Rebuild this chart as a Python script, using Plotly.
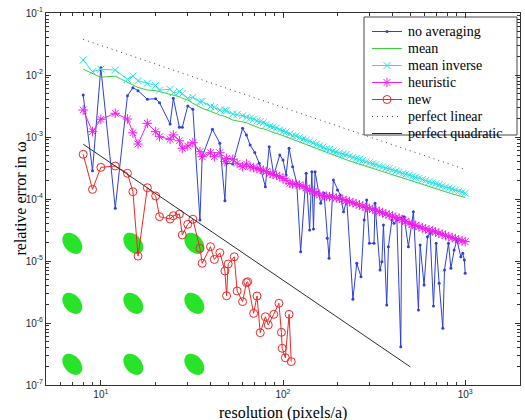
import numpy as np
import plotly.graph_objects as go

# ---------------- data ----------------
BLUE_X = [8, 9, 10, 12, 14, 15, 16, 18, 20, 21, 24, 25, 27, 28, 30, 32, 35, 36, 41, 45, 48, 49, 53, 60, 63,
          66, 70, 74, 80, 84, 89, 96, 100, 104, 108, 113, 119, 125, 134, 140, 144, 147, 150, 161, 168,
          175, 179, 189, 199, 206, 215, 224, 242, 254, 268, 279, 288, 298, 316, 320, 341, 349, 356, 371, 379,
          396, 407, 422, 443, 449, 462, 488, 520, 554, 566, 595, 621, 642, 670, 693, 720, 754, 770, 810, 835,
          870, 900, 947, 970, 990, 1000]
BLUE_Y = [4.75e-3, 2.86e-4, 1.31e-2, 7.1e-5, 4.64e-3, 6.24e-3, 5.58e-3, 4.06e-3, 4.15e-3, 3.57e-3,
          1.62e-3, 4.2e-3, 1.43e-3, 1.43e-3, 3.16e-3, 2.8e-3, 4.58e-5, 4.81e-4, 1.33e-3, 7.94e-4,
          9.4e-5, 3.77e-4, 3.67e-4, 1.38e-3, 1.08e-3,
          7.43e-4, 5.62e-4, 3.77e-4, 1.58e-4, 6.98e-4, 2.44e-4, 5.13e-4, 4.26e-4, 2.44e-4, 6.58e-4,
          3.32e-4, 1.79e-4, 1.41e-5, 2.60e-4, 3.16e-5, 2.75e-4, 3.28e-5, 2.75e-4, 8.53e-5, 1.24e-4,
          2.32e-5, 1.11e-5, 2.02e-4, 1.40e-4, 1.16e-4, 6.24e-5, 9.64e-5, 2.41e-6, 9.18e-6, 5.58e-6,
          4.58e-5, 9.64e-5, 1.93e-5, 1.93e-5, 8.53e-5, 7.16e-6, 9.75e-6, 3.81e-5, 1.95e-6, 1.70e-5,
          4.58e-5, 4.06e-5, 4.58e-5, 4.15e-7, 4.94e-5, 5.19e-5, 1.70e-5, 6.24e-5, 1.62e-6, 1.81e-5,
          4.10e-6, 2.47e-5, 2.80e-5, 1.88e-6, 1.93e-5, 4.37e-6, 8.22e-7, 7.16e-6, 1.93e-5, 7.62e-6,
          1.50e-5, 2.18e-5, 1.17e-5, 1.33e-5, 1.04e-5, 6.34e-6]

SMOOTH_X = [8, 9, 10, 12, 14, 15, 16, 18, 20, 21, 24, 25, 27, 28, 30, 32, 35, 36, 40, 42, 45, 48, 49, 53, 56, 60, 63,
            66, 69, 72, 75, 78, 81, 85, 88, 92, 96, 100, 104, 109, 113, 118, 123, 129, 134, 140, 146,
            152, 159, 166, 173, 180, 188, 196, 204, 213, 222, 232, 242, 252, 263, 274, 286, 298, 311, 324, 338,
            352, 367, 383, 399, 416, 434, 453, 472, 492, 513, 535, 558, 582, 607, 633, 660, 688, 717, 748, 780,
            813, 848, 884, 922, 961, 1000]

MEAN_Y = [1.24e-2, 1.06e-2, 9.2e-3, 9.6e-3, 7.8e-3, 6.9e-3, 6.3e-3, 5.73e-3, 5.6e-3, 5.38e-3,
          4.94e-3, 4.7e-3, 4.47e-3, 4.2e-3, 3.95e-3, 3.5e-3, 3.0e-3, 2.9e-3, 2.6e-3, 2.45e-3,
          2.26e-3, 2.15e-3, 2.08e-3, 1.88e-3, 1.82e-3, 1.77e-3, 1.7e-3,
          1.6e-3, 1.52e-3, 1.45e-3, 1.38e-3, 1.36e-3, 1.3e-3, 1.25e-3, 1.2e-3, 1.14e-3, 1.1e-3,
          1.05e-3, 1.0e-3, 9.5e-4, 9.1e-4, 8.7e-4, 8.3e-4, 7.9e-4, 7.6e-4, 7.2e-4, 6.85e-4,
          6.5e-4, 6.2e-4, 5.9e-4, 5.6e-4, 5.35e-4, 5.1e-4, 4.85e-4, 4.7e-4, 4.5e-4, 4.3e-4,
          4.1e-4, 3.95e-4, 3.8e-4, 3.65e-4, 3.5e-4, 3.35e-4, 3.2e-4, 3.08e-4, 2.95e-4, 2.84e-4,
          2.73e-4, 2.62e-4, 2.52e-4, 2.43e-4, 2.33e-4, 2.24e-4, 2.16e-4, 2.08e-4, 2.0e-4, 1.93e-4,
          1.85e-4, 1.78e-4, 1.72e-4, 1.65e-4, 1.59e-4, 1.53e-4, 1.47e-4, 1.41e-4, 1.36e-4, 1.31e-4,
          1.26e-4, 1.21e-4, 1.17e-4, 1.13e-4, 1.09e-4, 1.06e-4]

MEANINV_Y = [1.75e-2, 1.13e-2, 1.24e-2, 1.2e-2, 8.5e-3, 9.6e-3, 8.1e-3, 7.35e-3, 6.8e-3, 5.7e-3,
             5.9e-3, 5.2e-3, 5.4e-3, 5.0e-3, 4.2e-3, 4.36e-3, 3.7e-3, 3.75e-3, 3.1e-3, 3.0e-3,
             2.72e-3, 2.7e-3, 2.66e-3, 2.35e-3, 2.3e-3, 2.2e-3, 2.08e-3,
             2.0e-3, 1.95e-3, 1.82e-3, 1.77e-3, 1.70e-3, 1.6e-3, 1.5e-3, 1.45e-3, 1.40e-3, 1.3e-3,
             1.24e-3, 1.2e-3, 1.12e-3, 1.05e-3, 1.03e-3, 9.8e-4, 9.3e-4, 8.9e-4, 8.6e-4, 8.0e-4,
             7.6e-4, 7.2e-4, 6.9e-4, 6.4e-4, 6.3e-4, 5.95e-4, 5.75e-4, 5.5e-4, 5.3e-4, 5.2e-4,
             4.9e-4, 4.7e-4, 4.5e-4, 4.35e-4, 4.2e-4, 4.0e-4, 3.85e-4, 3.7e-4, 3.6e-4, 3.4e-4,
             3.3e-4, 3.15e-4, 3.1e-4, 2.95e-4, 2.82e-4, 2.7e-4, 2.55e-4, 2.5e-4, 2.42e-4, 2.32e-4,
             2.23e-4, 2.15e-4, 2.07e-4, 1.98e-4, 1.9e-4, 1.82e-4, 1.76e-4, 1.69e-4, 1.62e-4, 1.56e-4,
             1.5e-4, 1.44e-4, 1.39e-4, 1.33e-4, 1.28e-4, 1.24e-4]

HEUR_Y = [2.72e-3, 1.22e-3, 1.93e-3, 2.41e-3, 1.95e-3, 1.17e-3, 7.7e-4, 1.66e-3, 1.22e-3, 1.01e-3,
          9.18e-4, 1.08e-3, 8.7e-4, 6.58e-4, 7.16e-4, 8.1e-4, 5.8e-4, 4.81e-4, 5.58e-4, 4.81e-4,
          5.58e-4, 4.0e-4, 4.53e-4, 4.37e-4, 3.77e-4, 3.32e-4, 3.67e-4,
          3.32e-4, 3.2e-4, 3.1e-4, 3.0e-4, 2.9e-4, 2.75e-4, 2.6e-4, 2.5e-4, 2.4e-4, 2.29e-4,
          2.15e-4, 2.0e-4, 1.79e-4, 1.75e-4, 1.72e-4, 1.68e-4, 1.6e-4, 1.5e-4, 1.4e-4, 1.32e-4,
          1.25e-4, 1.16e-4, 1.13e-4, 1.11e-4, 1.09e-4, 1.07e-4, 1.04e-4, 1.03e-4, 9.8e-5, 9.4e-5,
          9.04e-5, 8.7e-5, 8.4e-5, 8.0e-5, 7.7e-5, 7.3e-5, 7.08e-5, 6.8e-5, 6.55e-5, 6.3e-5,
          6.0e-5, 5.7e-5, 5.52e-5, 5.3e-5, 5.0e-5, 4.9e-5, 4.6e-5, 4.35e-5, 4.06e-5, 3.9e-5,
          3.75e-5, 3.58e-5, 3.4e-5, 3.3e-5, 3.16e-5, 3.05e-5, 2.95e-5, 2.8e-5, 2.7e-5, 2.6e-5,
          2.47e-5, 2.38e-5, 2.3e-5, 2.2e-5, 2.12e-5, 2.05e-5]

NEW_X = [8, 9, 10, 12, 14, 15, 16, 18, 20, 21, 24, 25, 27, 28, 30, 32, 35, 36, 40, 42,
         45, 48, 49, 50, 54, 56, 60, 63, 64, 69, 72, 75, 80, 83, 89, 95, 98, 99, 103, 108, 111]
NEW_Y = [5.26e-4, 1.43e-4, 3.24e-4, 3.40e-4, 2.60e-4, 1.31e-4, 1.20e-5, 1.52e-4, 1.12e-4, 5.19e-5,
         4.76e-5, 5.38e-5, 5.73e-5, 2.63e-5, 3.91e-5, 4.71e-5, 1.60e-5, 9.18e-6, 1.70e-5, 1.06e-5,
         1.36e-5, 6.90e-6, 2.75e-6, 8.95e-6, 1.17e-5, 3.28e-6, 2.21e-6, 4.47e-6, 4.63e-6, 1.43e-6,
         2.72e-6, 6.98e-7, 1.26e-6, 9.29e-7, 1.38e-6, 2.08e-6, 7.08e-7, 3.91e-7, 2.75e-7, 1.38e-6, 2.38e-7]

LIN_X = [8, 1000]
LIN_Y = [3.75e-2, 3.0e-4]
QUAD_X = [8, 500]
QUAD_Y = [7.66e-4, 1.96e-7]

SERIES_NAMES = ["no averaging", "mean", "mean inverse", "heuristic", "new",
                "perfect linear", "perfect quadratic"]

X_TICKS = [10, 100, 1000]
X_TICKTEXT = ["10<sup>1</sup>", "10<sup>2</sup>", "10<sup>3</sup>"]
Y_TICKS = [1e-7, 1e-6, 1e-5, 1e-4, 1e-3, 1e-2, 1e-1]
Y_TICKTEXT = ["10<sup>-7</sup>", "10<sup>-6</sup>", "10<sup>-5</sup>", "10<sup>-4</sup>",
              "10<sup>-3</sup>", "10<sup>-2</sup>", "10<sup>-1</sup>"]

assert len(BLUE_X) == len(BLUE_Y)
assert len(SMOOTH_X) == len(MEAN_Y) == len(MEANINV_Y) == len(HEUR_Y)
assert len(NEW_X) == len(NEW_Y)

# ---------------- styles ----------------
SERIF = "Liberation Serif"
SANS = "Liberation Sans"

C_BLUE = "rgb(45,65,215)"
C_GREEN = "rgb(60,205,60)"
C_CYAN = "rgb(40,225,225)"
C_MAG = "rgb(240,30,240)"
C_RED = "rgb(235,40,40)"
C_BLK = "rgb(45,45,45)"

STYLES = [
    dict(mode="lines+markers", line=dict(color=C_BLUE, width=1),
         marker=dict(symbol="circle", size=3, color=C_BLUE)),
    dict(mode="lines", line=dict(color=C_GREEN, width=1)),
    dict(mode="lines+markers", line=dict(color=C_CYAN, width=1),
         marker=dict(symbol="x-thin-open", size=7, color=C_CYAN, line=dict(color=C_CYAN, width=1))),
    dict(mode="lines+markers", line=dict(color=C_MAG, width=1),
         marker=dict(symbol="asterisk-open", size=8, color=C_MAG, line=dict(color=C_MAG, width=1))),
    dict(mode="lines+markers", line=dict(color=C_RED, width=1),
         marker=dict(symbol="circle-open", size=8, color=C_RED, line=dict(color=C_RED, width=1))),
    dict(mode="lines", line=dict(color="rgb(60,60,60)", width=1, dash="1px,4px")),
    dict(mode="lines", line=dict(color=C_BLK, width=1)),
]
SERIES = [(BLUE_X, BLUE_Y), (SMOOTH_X, MEAN_Y), (SMOOTH_X, MEANINV_Y), (SMOOTH_X, HEUR_Y),
          (NEW_X, NEW_Y), (LIN_X, LIN_Y), (QUAD_X, QUAD_Y)]

W, H = 525, 420
ML, MR, MT, MB = 46, 5, 13, 35
PW, PH = W - ML - MR, H - MT - MB

fig = go.Figure()
for name, (xs, ys), st in zip(SERIES_NAMES, SERIES, STYLES):
    fig.add_trace(go.Scatter(x=xs, y=ys, name=name, showlegend=False, hoverinfo="skip", **st))

# ---------------- legend (drawn on an overlay in pixel units) ----------------
LEG_L, LEG_R, LEG_T, LEG_B = 364, 517, 17, 135
LEG_ROW0, LEG_DY = 31.5, 17.0
LEG_S0, LEG_S1, LEG_TX = 372, 402, 406

fig.add_trace(go.Scatter(x=[LEG_L, LEG_R, LEG_R, LEG_L, LEG_L], y=[LEG_T, LEG_T, LEG_B, LEG_B, LEG_T],
                         mode="lines", fill="toself", fillcolor="white",
                         line=dict(color="rgb(70,70,70)", width=1),
                         xaxis="x2", yaxis="y2", showlegend=False, hoverinfo="skip"))
legend_annots = []
for i, (name, st) in enumerate(zip(SERIES_NAMES, STYLES)):
    yy = LEG_ROW0 + i * LEG_DY
    fig.add_trace(go.Scatter(x=[LEG_S0, LEG_S1], y=[yy, yy], mode="lines", line=st["line"],
                             xaxis="x2", yaxis="y2", showlegend=False, hoverinfo="skip"))
    if "marker" in st:
        fig.add_trace(go.Scatter(x=[(LEG_S0 + LEG_S1) / 2], y=[yy], mode="markers", marker=st["marker"],
                                 xaxis="x2", yaxis="y2", showlegend=False, hoverinfo="skip"))
    legend_annots.append(dict(text=name, xref="x2", yref="y2", x=LEG_TX, y=yy,
                              xanchor="left", yanchor="middle", showarrow=False,
                              font=dict(family=SERIF, size=14, color="black")))

# decorative lattice of elliptical rods (inset picture), in paper coordinates
shapes = []
centers_px_x = [72.3, 133.3, 194.3]
centers_px_y = [243.3, 303.3, 364.3]
a, b, th = 12.0, 8.2, np.deg2rad(50)
t = np.linspace(0, 2 * np.pi, 40)
for cy in centers_px_y:
    for cx in centers_px_x:
        dx = a * np.cos(t) * np.cos(th) - b * np.sin(t) * np.sin(th)
        dy = a * np.cos(t) * np.sin(th) + b * np.sin(t) * np.cos(th)
        px = cx + dx
        py = cy + dy
        ux = (px - ML) / PW
        uy = (H - MB - py) / PH
        path = "M " + " L ".join(f"{u:.5f},{v:.5f}" for u, v in zip(ux, uy)) + " Z"
        shapes.append(dict(type="path", path=path, xref="paper", yref="paper",
                           fillcolor="rgb(40,228,40)", line=dict(width=0), layer="below"))

x_minor = [k * 10 ** e for e in range(0, 3) for k in range(2, 10) if 5 < k * 10 ** e < 2000]
y_minor = [k * 10.0 ** e for e in range(-7, -1) for k in range(2, 10)]

axis_common = dict(showgrid=False, zeroline=False, showline=True, linecolor="rgb(50,50,50)", linewidth=1,
                   mirror="allticks", ticks="inside", ticklen=5, tickcolor="rgb(50,50,50)",
                   tickmode="array", tickfont=dict(family=SANS, size=10, color="rgb(40,40,40)"),
                   automargin=False)

fig.update_layout(
    width=W, height=H,
    margin=dict(l=ML, r=MR, t=MT, b=MB, pad=0),
    paper_bgcolor="white", plot_bgcolor="white",
    shapes=shapes,
    showlegend=False,
    xaxis=dict(type="log", range=[np.log10(5), np.log10(2000)],
               tickvals=X_TICKS, ticktext=X_TICKTEXT,
               minor=dict(tickmode="array", tickvals=x_minor, ticks="inside", ticklen=3,
                          tickcolor="rgb(50,50,50)", showgrid=False),
               **axis_common),
    yaxis=dict(type="log", range=[-7, -1],
               tickvals=Y_TICKS, ticktext=Y_TICKTEXT,
               minor=dict(tickmode="array", tickvals=y_minor, ticks="inside", ticklen=3,
                          tickcolor="rgb(50,50,50)", showgrid=False),
               **axis_common),
    xaxis2=dict(overlaying="x", range=[ML, W - MR], visible=False, fixedrange=True),
    yaxis2=dict(overlaying="y", range=[H - MB, MT], visible=False, fixedrange=True),
    annotations=[
        dict(text="resolution (pixels/a)", xref="paper", yref="paper", x=0.5, y=0,
             xanchor="center", yanchor="top", yshift=-17, showarrow=False,
             font=dict(family=SERIF, size=16, color="black")),
        dict(text="relative error in ω", xref="paper", yref="paper", x=0, y=0.5,
             xanchor="right", yanchor="middle", xshift=-16, textangle=-90, showarrow=False,
             font=dict(family=SERIF, size=16, color="black")),
    ] + legend_annots,
)

fig.write_html("out.html")
